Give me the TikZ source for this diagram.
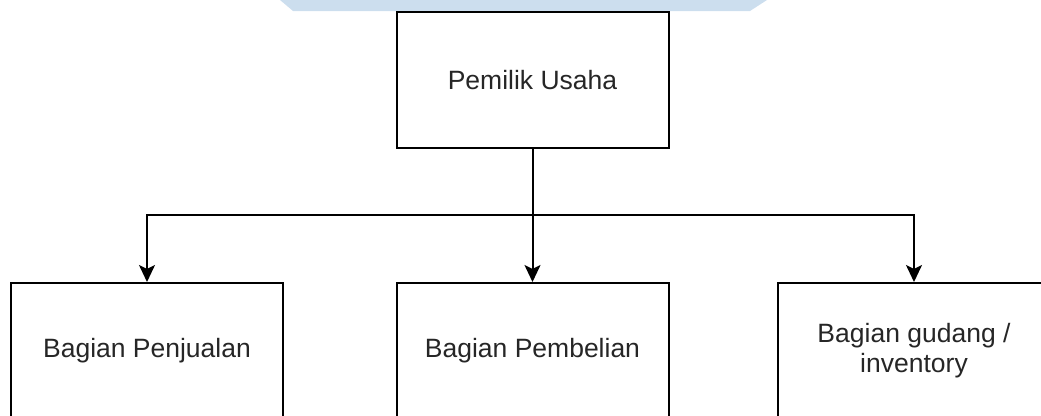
\documentclass[tikz,border=0pt]{standalone}
\usepackage{fontspec}
\setmainfont{Liberation Sans}
\usetikzlibrary{arrows.meta,calc}
\definecolor{wm}{HTML}{CCDEEE}
\begin{document}
\begin{tikzpicture}[x=1pt,y=-1pt,
  box/.style={draw=black,line width=2pt,minimum width=272pt,minimum height=136pt,inner sep=0pt,align=center,font=\fontsize{26.5}{30}\selectfont,text=black!85},
  arr/.style={line width=2pt,-{Stealth[length=17pt,width=16pt,inset=4pt]}}]
\useasboundingbox (0,0) rectangle (1041,415);
\clip (0,0) rectangle (1041,415);
\fill[wm] (280,0) -- (767,0) -- (750,11) -- (293,11) -- cycle;
\node[box] (top) at (532.5,80) {Pemilik Usaha};
\node[box] (left) at (147,351) {Bagian Penjualan};
\node[box] (mid) at (532.5,351) {Bagian Pembelian};
\node[box] (right) at (914,351) {Bagian gudang /\\inventory};
\coordinate (j) at (532.5,215);
\draw[line width=2pt] (top.south) -- (j);
\draw[arr] (j) -| (left.north);
\draw[arr] (j) -| (right.north);
\draw[arr] (j) -- (mid.north);
\end{tikzpicture}
\end{document}
